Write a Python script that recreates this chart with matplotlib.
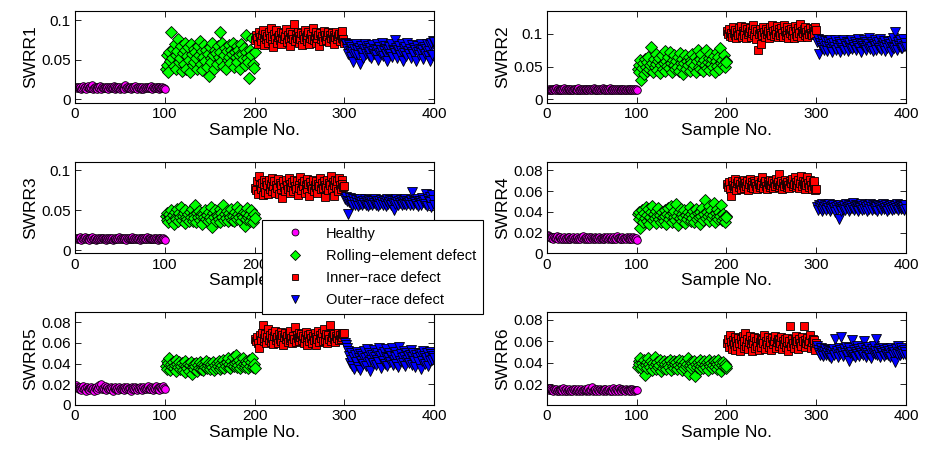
import numpy as np
import matplotlib
matplotlib.use("Agg")
import matplotlib.pyplot as plt
from matplotlib.ticker import FixedLocator, FormatStrFormatter

plt.rcParams["font.family"] = ["Liberation Sans", "DejaVu Sans"]

# SWRR feature values per bearing condition, stored in units of 1e-4
healthy_1 = [152, 141, 160, 138, 147, 155, 133, 149, 171, 144, 158, 136, 150, 163, 142, 139, 157, 148, 180, 135, 146, 153, 140, 161, 137, 150, 144, 166, 132, 155, 149, 141, 158, 138, 147, 160, 134, 152, 143, 156, 139, 148, 173, 136, 151, 145, 162, 140, 154, 133, 147, 159, 142, 150, 137, 176, 144, 153, 139, 148, 161, 135, 157, 143, 150, 138, 165, 146, 134, 152, 141, 158, 137, 149, 155, 132, 147, 160, 143, 151, 138, 156, 140, 148, 170, 136, 153, 145, 139, 158, 142, 150, 134, 161, 147, 139, 155, 143, 149, 126]
rolling_1 = [380, 430, 560, 350, 600, 480, 850, 520, 640, 420, 700, 560, 390, 610, 760, 470, 530, 680, 360, 590, 450, 720, 620, 380, 550, 660, 500, 350, 700, 580, 430, 640, 470, 600, 520, 390, 680, 560, 740, 450, 610, 370, 540, 690, 480, 620, 410, 580, 300, 660, 520, 470, 710, 560, 390, 630, 590, 450, 680, 540, 850, 600, 480, 720, 420, 560, 650, 380, 610, 500, 690, 540, 460, 630, 580, 720, 410, 600, 540, 680, 470, 620, 560, 390, 700, 580, 510, 650, 440, 600, 820, 530, 470, 270, 620, 560, 780, 450, 400, 600]
inner_1 = [750, 820, 780, 700, 860, 790, 740, 810, 880, 760, 690, 830, 770, 800, 720, 850, 780, 910, 740, 800, 660, 830, 770, 880, 710, 790, 820, 750, 860, 700, 780, 840, 760, 800, 890, 730, 810, 770, 850, 680, 790, 830, 760, 950, 740, 810, 780, 860, 720, 800, 770, 840, 690, 820, 760, 880, 790, 740, 810, 860, 700, 780, 830, 760, 900, 750, 800, 720, 850, 780, 810, 680, 840, 770, 800, 740, 870, 790, 820, 750, 800, 860, 730, 810, 780, 840, 770, 700, 820, 790, 850, 760, 800, 830, 740, 810, 780, 870, 760, 720]
outer_1 = [720, 700, 640, 580, 690, 610, 540, 660, 600, 470, 640, 580, 700, 620, 560, 650, 450, 610, 680, 590, 530, 640, 700, 570, 620, 680, 550, 600, 650, 520, 690, 610, 580, 640, 560, 700, 620, 500, 660, 590, 630, 710, 550, 610, 680, 570, 640, 490, 620, 660, 580, 700, 540, 630, 610, 750, 590, 650, 520, 620, 680, 560, 610, 700, 480, 640, 590, 660, 550, 720, 610, 580, 640, 530, 690, 600, 570, 650, 620, 490, 680, 600, 560, 640, 700, 590, 620, 510, 660, 580, 640, 700, 550, 610, 480, 690, 720, 560, 740, 730]

healthy_2 = [148, 155, 140, 162, 145, 137, 158, 150, 143, 166, 139, 152, 147, 160, 135, 149, 156, 141, 171, 146, 153, 138, 159, 144, 150, 136, 163, 148, 142, 157, 151, 139, 154, 145, 168, 140, 149, 157, 143, 152, 137, 161, 147, 155, 140, 150, 164, 143, 158, 136, 150, 174, 145, 153, 139, 148, 160, 142, 155, 138, 151, 166, 144, 150, 137, 159, 147, 153, 141, 172, 146, 152, 139, 157, 144, 150, 135, 161, 148, 154, 140, 158, 145, 151, 137, 163, 149, 143, 156, 140, 152, 146, 160, 138, 150, 144, 157, 141, 153, 147]
rolling_2 = [460, 520, 410, 600, 300, 480, 550, 380, 620, 500, 440, 570, 650, 470, 530, 800, 560, 420, 610, 490, 540, 700, 450, 580, 630, 400, 520, 680, 470, 560, 740, 430, 590, 510, 650, 480, 720, 550, 410, 600, 530, 670, 460, 580, 500, 640, 430, 710, 560, 490, 620, 380, 550, 680, 470, 590, 520, 650, 440, 600, 560, 700, 480, 530, 640, 410, 580, 750, 500, 620, 460, 690, 550, 430, 600, 520, 760, 480, 570, 630, 450, 700, 540, 610, 490, 660, 420, 580, 720, 510, 640, 470, 780, 550, 600, 520, 680, 500, 590, 570]
inner_2 = [1040, 1000, 1080, 970, 1020, 950, 1100, 1010, 990, 1060, 930, 1030, 980, 1090, 1000, 1120, 960, 1050, 1010, 980, 1100, 940, 1070, 1000, 1030, 1090, 960, 1010, 1050, 1130, 990, 1080, 920, 1040, 750, 1000, 1070, 850, 1020, 980, 1110, 1030, 960, 1080, 1000, 1050, 940, 1100, 1010, 990, 1140, 1040, 970, 1060, 1000, 1120, 950, 1080, 1030, 990, 1090, 1010, 960, 1140, 1050, 980, 1030, 1100, 940, 1060, 1010, 1080, 990, 1040, 930, 1120, 1000, 1050, 970, 1090, 1020, 1150, 960, 1040, 1010, 1080, 990, 1110, 1030, 950, 1060, 1000, 1090, 1020, 980, 1070, 1040, 1000, 1100, 1060]
outer_2 = [880, 920, 700, 860, 810, 900, 780, 850, 760, 890, 820, 740, 870, 800, 910, 770, 840, 730, 860, 800, 900, 750, 830, 780, 870, 810, 720, 850, 790, 900, 760, 840, 810, 880, 740, 820, 860, 790, 910, 770, 830, 800, 880, 750, 850, 820, 920, 780, 860, 730, 840, 810, 900, 790, 870, 760, 820, 850, 930, 770, 800, 880, 740, 840, 810, 900, 760, 830, 870, 790, 920, 750, 820, 860, 800, 890, 740, 830, 780, 870, 810, 850, 720, 890, 800, 940, 780, 1030, 830, 760, 870, 820, 900, 790, 850, 780, 920, 810, 860, 800]

healthy_3 = [150, 143, 158, 138, 147, 161, 135, 152, 144, 156, 170, 139, 149, 142, 157, 136, 150, 145, 162, 138, 148, 155, 133, 146, 140, 158, 143, 151, 137, 149, 156, 141, 147, 135, 153, 144, 160, 138, 150, 143, 155, 136, 148, 142, 157, 139, 151, 146, 163, 137, 149, 144, 154, 140, 147, 159, 135, 152, 143, 156, 138, 148, 145, 161, 137, 150, 141, 155, 139, 147, 152, 136, 158, 143, 149, 140, 155, 137, 148, 165, 142, 151, 139, 156, 144, 147, 138, 153, 141, 160, 146, 135, 150, 143, 157, 140, 148, 152, 138, 125]
rolling_3 = [430, 380, 470, 350, 450, 400, 500, 370, 440, 330, 480, 420, 390, 510, 360, 460, 410, 540, 380, 430, 470, 340, 500, 420, 390, 450, 360, 480, 410, 520, 370, 440, 400, 560, 350, 460, 420, 490, 380, 430, 470, 330, 450, 410, 500, 390, 440, 360, 480, 420, 540, 380, 290, 460, 410, 500, 370, 440, 430, 390, 510, 350, 470, 420, 560, 380, 450, 400, 490, 360, 440, 470, 410, 520, 380, 430, 360, 480, 410, 540, 390, 450, 420, 500, 370, 440, 410, 480, 300, 460, 390, 530, 420, 440, 370, 500, 410, 350, 450, 400]
inner_3 = [780, 750, 860, 700, 920, 810, 760, 840, 690, 880, 790, 730, 850, 810, 700, 870, 760, 830, 900, 740, 800, 860, 720, 820, 780, 890, 700, 840, 770, 810, 650, 860, 790, 740, 880, 820, 760, 900, 710, 830, 790, 850, 740, 880, 800, 770, 860, 690, 820, 780, 910, 750, 840, 800, 860, 720, 810, 890, 770, 830, 680, 850, 800, 760, 880, 740, 820, 790, 860, 710, 830, 800, 900, 760, 840, 780, 860, 670, 820, 790, 880, 750, 840, 810, 930, 770, 850, 680, 820, 880, 790, 860, 740, 900, 810, 770, 880, 830, 790, 800]
outer_3 = [640, 660, 620, 450, 600, 650, 580, 620, 560, 640, 600, 570, 630, 590, 550, 610, 640, 580, 600, 560, 620, 590, 640, 570, 610, 550, 600, 630, 580, 620, 560, 610, 590, 640, 570, 600, 620, 550, 610, 580, 630, 600, 570, 620, 590, 550, 610, 640, 580, 600, 630, 570, 610, 590, 500, 620, 580, 640, 600, 560, 610, 590, 630, 570, 600, 620, 580, 640, 560, 610, 590, 600, 570, 630, 590, 730, 560, 620, 600, 580, 640, 550, 610, 620, 590, 560, 650, 600, 630, 580, 700, 550, 640, 610, 670, 600, 540, 690, 630, 560]

healthy_4 = [175, 168, 160, 152, 148, 157, 140, 163, 150, 145, 172, 138, 155, 147, 160, 136, 151, 143, 158, 140, 149, 135, 156, 144, 162, 139, 150, 146, 157, 141, 153, 137, 148, 160, 143, 151, 138, 155, 145, 166, 140, 150, 136, 157, 147, 142, 154, 139, 161, 148, 143, 152, 137, 156, 145, 150, 141, 159, 138, 147, 153, 144, 163, 139, 150, 146, 155, 137, 148, 158, 142, 151, 136, 157, 144, 149, 140, 164, 147, 153, 138, 150, 143, 157, 141, 148, 152, 137, 160, 145, 139, 154, 143, 150, 136, 158, 147, 141, 152, 130]
rolling_4 = [380, 330, 400, 250, 360, 420, 300, 390, 340, 450, 310, 370, 430, 280, 350, 400, 460, 320, 380, 340, 410, 290, 360, 440, 330, 370, 300, 400, 350, 310, 420, 360, 280, 380, 440, 330, 370, 460, 300, 390, 350, 410, 320, 480, 360, 270, 400, 340, 430, 310, 380, 350, 420, 290, 370, 330, 400, 360, 450, 310, 380, 340, 410, 300, 370, 430, 330, 390, 350, 280, 400, 360, 440, 320, 380, 510, 340, 400, 360, 460, 310, 380, 420, 340, 370, 490, 300, 390, 350, 430, 330, 400, 360, 470, 320, 380, 340, 300, 360, 350]
inner_4 = [670, 640, 690, 620, 550, 700, 660, 630, 720, 650, 610, 680, 700, 640, 670, 620, 690, 660, 710, 630, 680, 650, 700, 610, 670, 720, 640, 690, 660, 630, 700, 680, 650, 620, 710, 670, 640, 690, 660, 740, 630, 680, 700, 650, 620, 690, 670, 710, 640, 660, 700, 630, 680, 650, 720, 670, 690, 640, 760, 660, 700, 620, 680, 650, 710, 670, 640, 690, 660, 630, 700, 680, 720, 650, 670, 740, 640, 690, 660, 710, 630, 680, 750, 650, 700, 670, 620, 690, 660, 740, 680, 640, 710, 660, 620, 690, 650, 700, 610, 620]
outer_4 = [450, 420, 470, 440, 460, 410, 480, 430, 450, 470, 420, 460, 440, 480, 410, 450, 430, 460, 470, 440, 400, 450, 420, 460, 330, 440, 470, 410, 450, 430, 460, 420, 480, 440, 450, 410, 470, 430, 460, 440, 490, 420, 450, 470, 430, 460, 410, 450, 440, 480, 420, 460, 430, 470, 440, 450, 410, 460, 430, 480, 450, 420, 470, 440, 460, 430, 450, 410, 470, 440, 460, 420, 450, 480, 430, 460, 440, 470, 410, 450, 430, 460, 440, 420, 470, 450, 430, 460, 440, 480, 420, 450, 470, 430, 460, 440, 450, 420, 470, 430]

healthy_5 = [190, 170, 160, 150, 175, 155, 145, 165, 180, 150, 160, 140, 170, 155, 165, 145, 160, 175, 150, 165, 135, 160, 170, 150, 145, 160, 195, 170, 200, 155, 165, 150, 180, 160, 145, 170, 155, 165, 150, 175, 160, 140, 165, 155, 170, 150, 160, 145, 175, 155, 165, 150, 160, 170, 145, 160, 155, 170, 150, 165, 160, 140, 170, 155, 165, 150, 175, 160, 145, 165, 155, 170, 150, 160, 145, 175, 155, 165, 150, 160, 185, 155, 165, 150, 170, 160, 145, 165, 155, 180, 150, 160, 170, 145, 175, 160, 155, 185, 165, 150]
rolling_5 = [380, 430, 350, 410, 450, 340, 400, 370, 420, 360, 390, 440, 330, 400, 370, 420, 350, 380, 410, 340, 390, 430, 320, 380, 360, 400, 330, 390, 420, 300, 370, 400, 350, 380, 410, 330, 390, 360, 420, 350, 380, 400, 340, 390, 370, 430, 360, 390, 410, 350, 380, 400, 370, 420, 340, 390, 360, 410, 380, 430, 350, 400, 370, 390, 440, 360, 410, 380, 420, 450, 370, 400, 360, 430, 390, 460, 380, 410, 480, 370, 420, 390, 440, 360, 410, 380, 450, 400, 370, 430, 390, 410, 360, 440, 380, 420, 450, 370, 400, 360]
inner_5 = [640, 620, 660, 600, 550, 680, 630, 700, 770, 620, 650, 690, 600, 660, 740, 630, 680, 610, 700, 650, 590, 670, 720, 630, 660, 600, 690, 640, 710, 620, 680, 580, 660, 700, 640, 670, 610, 690, 630, 720, 650, 600, 670, 640, 750, 610, 680, 650, 700, 620, 660, 690, 630, 670, 600, 650, 710, 640, 580, 680, 620, 690, 650, 600, 670, 630, 700, 580, 660, 640, 720, 610, 680, 650, 700, 620, 740, 660, 630, 690, 600, 680, 640, 770, 620, 660, 700, 640, 690, 610, 670, 650, 700, 630, 680, 640, 660, 700, 690, 700]
outer_5 = [600, 580, 550, 520, 470, 410, 500, 440, 380, 460, 350, 480, 420, 510, 370, 450, 490, 340, 430, 470, 400, 520, 450, 380, 540, 460, 420, 500, 330, 440, 480, 410, 530, 460, 390, 500, 440, 420, 550, 470, 360, 490, 430, 510, 400, 460, 540, 380, 450, 500, 420, 470, 550, 390, 440, 510, 460, 400, 480, 370, 560, 430, 490, 450, 410, 520, 460, 380, 500, 440, 470, 410, 480, 530, 390, 460, 500, 430, 370, 480, 450, 420, 500, 460, 350, 490, 430, 520, 470, 400, 450, 500, 380, 460, 510, 430, 490, 440, 470, 450]

healthy_6 = [158, 150, 170, 143, 155, 147, 138, 152, 145, 160, 140, 149, 135, 156, 144, 151, 139, 163, 147, 142, 154, 137, 150, 145, 159, 141, 148, 136, 153, 144, 161, 139, 150, 143, 156, 138, 147, 152, 135, 149, 144, 157, 140, 151, 146, 162, 138, 148, 143, 175, 139, 150, 145, 156, 136, 152, 147, 141, 158, 143, 149, 137, 155, 146, 160, 140, 151, 144, 157, 138, 150, 147, 142, 163, 145, 139, 153, 148, 141, 170, 146, 152, 138, 156, 143, 149, 140, 158, 145, 151, 137, 154, 146, 142, 157, 148, 139, 150, 144, 145]
rolling_6 = [360, 420, 390, 440, 350, 400, 370, 430, 290, 380, 410, 350, 440, 390, 360, 420, 330, 400, 370, 450, 340, 390, 410, 360, 380, 430, 320, 400, 350, 420, 370, 390, 340, 410, 380, 360, 430, 330, 400, 370, 420, 350, 390, 410, 340, 380, 430, 360, 400, 330, 420, 380, 350, 410, 370, 390, 440, 300, 380, 410, 350, 400, 370, 420, 280, 390, 360, 410, 380, 340, 430, 370, 400, 350, 420, 380, 360, 410, 330, 390, 430, 370, 400, 350, 380, 420, 360, 410, 390, 340, 430, 370, 400, 320, 380, 410, 360, 390, 350, 370]
inner_6 = [580, 620, 550, 660, 590, 530, 610, 570, 640, 520, 600, 560, 630, 580, 510, 620, 570, 650, 540, 600, 680, 560, 620, 530, 590, 650, 570, 510, 610, 580, 640, 540, 600, 560, 630, 520, 590, 620, 550, 610, 580, 660, 530, 600, 570, 640, 550, 610, 590, 520, 630, 570, 600, 650, 540, 590, 620, 560, 610, 580, 640, 530, 600, 570, 620, 550, 590, 630, 510, 600, 740, 560, 620, 580, 540, 610, 650, 570, 600, 530, 620, 580, 560, 640, 600, 740, 550, 610, 580, 630, 570, 600, 660, 540, 590, 620, 560, 610, 520, 580]
outer_6 = [560, 520, 490, 470, 540, 480, 510, 460, 500, 530, 470, 490, 520, 460, 510, 480, 440, 500, 530, 470, 620, 490, 510, 450, 540, 480, 520, 640, 500, 460, 530, 490, 550, 470, 510, 420, 540, 490, 500, 610, 470, 520, 450, 500, 560, 480, 530, 460, 510, 490, 540, 470, 600, 500, 450, 520, 490, 550, 470, 510, 440, 530, 490, 560, 480, 510, 620, 470, 500, 530, 450, 510, 490, 540, 460, 520, 500, 480, 530, 470, 510, 450, 540, 490, 520, 470, 500, 410, 530, 480, 560, 500, 470, 540, 490, 510, 480, 520, 500, 470]

feature_names = ["SWRR1", "SWRR2", "SWRR3", "SWRR4", "SWRR5", "SWRR6"]
class_names = ["Healthy", "Rolling\u2212element defect", "Inner\u2212race defect", "Outer\u2212race defect"]
y_limits = [(-0.0047, 0.112), (-0.0057, 0.135), (-0.0038, 0.110),
            (0.0, 0.088), (0.0, 0.090), (0.0008, 0.0872)]
y_ticks = [[0, 0.05, 0.1], [0, 0.05, 0.1], [0, 0.05, 0.1],
           [0, 0.02, 0.04, 0.06, 0.08], [0, 0.02, 0.04, 0.06, 0.08],
           [0.02, 0.04, 0.06, 0.08]]

features = [
    [healthy_1, rolling_1, inner_1, outer_1],
    [healthy_2, rolling_2, inner_2, outer_2],
    [healthy_3, rolling_3, inner_3, outer_3],
    [healthy_4, rolling_4, inner_4, outer_4],
    [healthy_5, rolling_5, inner_5, outer_5],
    [healthy_6, rolling_6, inner_6, outer_6],
]

markers = ["o", "D", "s", "v"]
sizes = [5.5, 6.0, 5.5, 6.5]
colors = ["#ff00ff", "#00ff00", "#ff0000", "#0000ff"]

fig = plt.figure(figsize=(9.31, 4.53), dpi=100)

# axes boxes in figure fractions: two columns, three rows
lefts = [0.0806, 0.5875]
bottoms = [0.7726, 0.4404, 0.1060]
heights = [0.2031, 0.2020, 0.2053]
width = 0.3856

handles = []
for k, groups in enumerate(features):
    row, col = divmod(k, 2)
    ax = fig.add_axes([lefts[col], bottoms[row], width, heights[row]])
    for c, vals in enumerate(groups):
        y = np.array(vals) * 1e-4
        x = np.arange(len(y)) + 100 * c + 1
        line, = ax.plot(x, y, linestyle="none", marker=markers[c], ms=sizes[c],
                        mfc=colors[c], mec="black", mew=0.6, label=class_names[c])
        if k == 0:
            handles.append(line)
    ax.set_xlim(0, 400)
    ax.set_ylim(*y_limits[k])
    ax.xaxis.set_major_locator(FixedLocator([0, 100, 200, 300, 400]))
    ax.yaxis.set_major_locator(FixedLocator(y_ticks[k]))
    ax.yaxis.set_major_formatter(FormatStrFormatter("%g"))
    ax.tick_params(direction="in", top=True, right=True, length=4, width=0.6,
                   labelsize=11, pad=3)
    for sp in ax.spines.values():
        sp.set_linewidth(0.8)
    ax.set_xlabel("Sample No.", fontsize=12.5, labelpad=1)
    ax.set_ylabel(feature_names[k], fontsize=12.5, labelpad=2)

leg = fig.legend(handles=handles, loc="upper left",
                 bbox_to_anchor=(262 / 931, 1 - 220 / 453),
                 fontsize=10.5, frameon=True, fancybox=False, framealpha=1,
                 edgecolor="black", handlelength=3.6, handletextpad=0.35,
                 borderpad=0.45, labelspacing=0.56, markerscale=0.9,
                 borderaxespad=0)
leg.get_frame().set_linewidth(0.8)

fig.savefig("out.png", dpi=100)
